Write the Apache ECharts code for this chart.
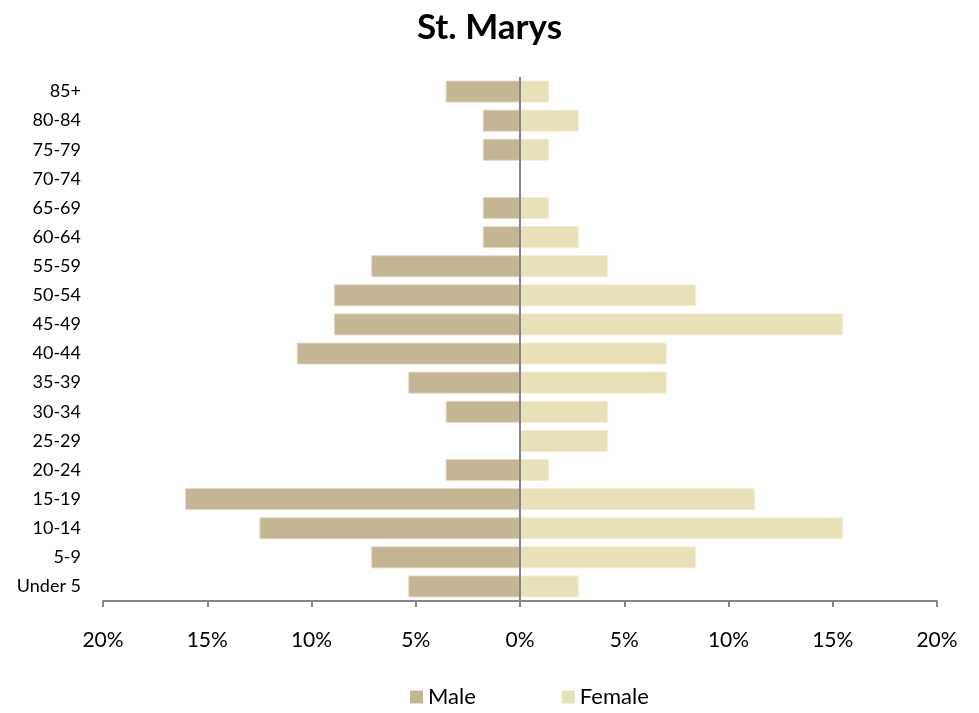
<!DOCTYPE html>
<html>
<head>
<meta charset="utf-8">
<script src="https://cdn.jsdelivr.net/npm/echarts@6/dist/echarts.min.js"></script>
<style>
  html, body { margin: 0; padding: 0; background: #fff; }
  #chart { width: 979px; height: 713px; }
</style>
</head>
<body>
<div id="chart"></div>
<script>
// age groups, bottom to top
var ageGroups = ['Under 5', '5-9', '10-14', '15-19', '20-24', '25-29', '30-34', '35-39', '40-44',
                 '45-49', '50-54', '55-59', '60-64', '65-69', '70-74', '75-79', '80-84', '85+'];
// percent of population
var male   = [5.36, 7.14, 12.5, 16.07, 3.57, 0, 3.57, 5.36, 10.71, 8.93, 8.93, 7.14, 1.79, 1.79, 0, 1.79, 1.79, 3.57];
var female = [2.82, 8.45, 15.49, 11.27, 1.41, 4.23, 4.23, 7.04, 7.04, 15.49, 8.45, 4.23, 2.82, 1.41, 0, 1.41, 2.82, 1.41];
var xTicks = [-20, -15, -10, -5, 0, 5, 10, 15, 20];

var font = 'Lato, "Open Sans", sans-serif';
var myChart = echarts.init(document.getElementById('chart'));
myChart.setOption({
    animation: false,
    title: {
        text: 'St. Marys',
        left: 'center',
        top: 5,
        textStyle: { fontFamily: font, fontSize: 35, fontWeight: 'bold', color: '#000' }
    },
    legend: {
        bottom: 0,
        left: 405,
        itemGap: 86,
        itemWidth: 13,
        itemHeight: 13,
        itemTextGap: 7,
        textStyle: { fontFamily: font, fontSize: 22, color: '#000' },
        data: [
            { name: 'Male', icon: 'rect', itemStyle: { borderWidth: 0 } },
            { name: 'Female', icon: 'rect', itemStyle: { borderWidth: 0 } }
        ]
    },
    grid: { left: 103, right: 42, top: 77, bottom: 112 },
    xAxis: {
        type: 'value',
        min: xTicks[0],
        max: xTicks[xTicks.length - 1],
        interval: 5,
        axisLine: { show: true, lineStyle: { color: '#868686', width: 2 } },
        axisTick: { show: true, length: 6, lineStyle: { color: '#868686', width: 2 } },
        splitLine: { show: false },
        axisLabel: {
            fontFamily: font, fontSize: 21, color: '#000', margin: 29,
            formatter: function (v) { return Math.abs(v) + '%'; }
        }
    },
    yAxis: {
        type: 'category',
        data: ageGroups,
        axisLine: { show: false },
        axisTick: { show: false },
        axisLabel: { fontFamily: font, fontSize: 18, color: '#000', margin: 22 }
    },
    series: [{
        name: 'Male',
        type: 'bar',
        stack: 'pop',
        barWidth: '76%',
        itemStyle: { color: '#c4b593', borderColor: '#e4dccb', borderWidth: 1 },
        data: male.map(function (v) { return -v; }),
        markLine: {
            silent: true,
            symbol: 'none',
            label: { show: false },
            lineStyle: { color: '#868686', width: 2, type: 'solid' },
            data: [{ xAxis: 0 }]
        }
    }, {
        name: 'Female',
        type: 'bar',
        stack: 'pop',
        barWidth: '76%',
        itemStyle: { color: '#e8e0b6', borderColor: '#f4efdb', borderWidth: 1 },
        data: female
    }]
});
</script>
</body>
</html>
